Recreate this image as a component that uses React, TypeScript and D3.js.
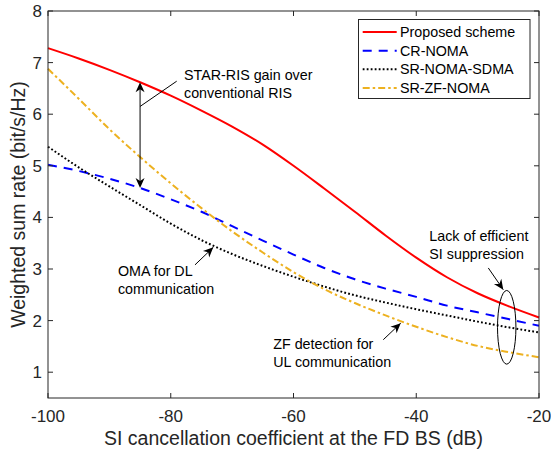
import React from "react";
import * as d3 from "d3";

const xValues = [-100, -95, -90, -85, -80, -75, -70, -65, -60, -55, -50, -45, -40, -35, -30, -25, -20];
const proposed = [7.28, 7.08, 6.86, 6.62, 6.36, 6.07, 5.76, 5.41, 5.0, 4.56, 4.11, 3.65, 3.22, 2.84, 2.53, 2.28, 2.06];
const crNoma = [5.02, 4.9, 4.75, 4.57, 4.35, 4.11, 3.83, 3.55, 3.28, 3.02, 2.8, 2.62, 2.46, 2.29, 2.16, 2.03, 1.9];
const srNomaSdma = [5.37, 4.97, 4.6, 4.24, 3.88, 3.56, 3.29, 3.06, 2.85, 2.66, 2.49, 2.35, 2.22, 2.1, 1.98, 1.87, 1.77];
const srZfNoma = [6.88, 6.3, 5.71, 5.17, 4.66, 4.18, 3.73, 3.32, 2.94, 2.61, 2.34, 2.1, 1.88, 1.68, 1.51, 1.39, 1.29];

const seriesNames = ["Proposed scheme", "CR-NOMA", "SR-NOMA-SDMA", "SR-ZF-NOMA"];
const xTicks = [-100, -80, -60, -40, -20];
const yTicks = [1, 2, 3, 4, 5, 6, 7, 8];
const xTitle = "SI cancellation coefficient at the FD BS (dB)";
const yTitle = "Weighted sum rate (bit/s/Hz)";

const W = 551, H = 451;
const L = 48, R = 539, T = 11, B = 398;
const AX = "#262626";
const FONT = "'Liberation Sans', Arial, Helvetica, sans-serif";

const styles = [
  { color: "#FF0000", dash: "none" },
  { color: "#0000FF", dash: "9,7" },
  { color: "#000000", dash: "1.8,2.2" },
  { color: "#EDB120", dash: "7,3,2.5,3" },
];

export default function App() {
  const x = d3.scaleLinear().domain([-100, -20]).range([L, R]);
  const y = d3.scaleLinear().domain([0.5, 8]).range([B, T]);
  const allSeries = [proposed, crNoma, srNomaSdma, srZfNoma];
  const line = d3
    .line<number>()
    .x((_, i) => x(xValues[i]))
    .y((d) => y(d))
    .curve(d3.curveMonotoneX);

  const iArrow = xValues.indexOf(-85);
  const arrowX = x(-85);
  const arrowTop = y(proposed[iArrow]);
  const arrowBot = y(crNoma[iArrow]);

  const head = (tx: number, ty: number, fx: number, fy: number) => {
    const ang = Math.atan2(ty - fy, tx - fx);
    const len = 10, wid = 4.5;
    const bx = tx - len * Math.cos(ang), by = ty - len * Math.sin(ang);
    const mx = tx - 0.7 * len * Math.cos(ang), my = ty - 0.7 * len * Math.sin(ang);
    const px = -Math.sin(ang) * wid, py = Math.cos(ang) * wid;
    return `M${tx},${ty} L${bx + px},${by + py} L${mx},${my} L${bx - px},${by - py} Z`;
  };

  const arrows = [
    { from: [-76.05, 3.08], to: [-73.07, 3.42] },
    { from: [-45.37, 1.63], to: [-42.53, 1.95] },
    { from: [-28.26, 3.02], to: [-25.82, 2.6] },
  ];

  const notes = [
    { x: -77.84, y: 6.765, lines: ["STAR-RIS gain over", "conventional RIS"] },
    { x: -88.6, y: 2.97, lines: ["OMA for DL", "communication"] },
    { x: -63.3, y: 1.55, lines: ["ZF detection for", "UL communication"] },
    { x: -37.87, y: 3.64, lines: ["Lack of efficient", "SI suppression"] },
  ];

  const legendRows = [32, 50.7, 69.3, 88];

  return (
    <svg
      width={W}
      height={H}
      style={{ position: "absolute", left: 0, top: 0, background: "#fff" }}
      fontFamily={FONT}
    >
      <rect x={0} y={0} width={W} height={H} fill="#fff" />
      {allSeries.map((s, k) => (
        <path
          key={k}
          d={line(s) || ""}
          fill="none"
          stroke={styles[k].color}
          strokeWidth={2}
          strokeDasharray={styles[k].dash}
        />
      ))}

      <rect x={L} y={T} width={R - L} height={B - T} fill="none" stroke={AX} strokeWidth={1} />
      {xTicks.map((t) => (
        <g key={"xt" + t}>
          <line x1={x(t)} x2={x(t)} y1={B} y2={B - 5} stroke={AX} />
          <line x1={x(t)} x2={x(t)} y1={T} y2={T + 5} stroke={AX} />
          <text x={x(t)} y={B + 12} dy="0.71em" textAnchor="middle" fontSize={17} fill={AX}>
            {t}
          </text>
        </g>
      ))}
      {yTicks.map((t) => (
        <g key={"yt" + t}>
          <line x1={L} x2={L + 5} y1={y(t)} y2={y(t)} stroke={AX} />
          <line x1={R} x2={R - 5} y1={y(t)} y2={y(t)} stroke={AX} />
          <text x={L - 6} y={y(t)} dy="0.35em" textAnchor="end" fontSize={17} fill={AX}>
            {t}
          </text>
        </g>
      ))}
      <text x={(L + R) / 2} y={445} textAnchor="middle" fontSize={19.5} fill={AX}>
        {xTitle}
      </text>
      <text
        transform={`translate(25,${(T + B) / 2}) rotate(-90)`}
        textAnchor="middle"
        fontSize={19.5}
        fill={AX}
      >
        {yTitle}
      </text>

      <line x1={arrowX} x2={arrowX} y1={arrowTop + 4} y2={arrowBot - 4} stroke="#000" strokeWidth={1} />
      <path d={head(arrowX, arrowTop, arrowX, arrowBot)} fill="#000" />
      <path d={head(arrowX, arrowBot, arrowX, arrowTop)} fill="#000" />
      <line x1={x(-79.03)} y1={y(6.64)} x2={arrowX} y2={y(6.15)} stroke="#000" strokeWidth={1} />

      {arrows.map((a, i) => {
        const fx = x(a.from[0]), fy = y(a.from[1]);
        const tx = x(a.to[0]), ty = y(a.to[1]);
        return (
          <g key={"ar" + i}>
            <line x1={fx} y1={fy} x2={tx} y2={ty} stroke="#000" strokeWidth={1} />
            <path d={head(tx, ty, fx, fy)} fill="#000" />
          </g>
        );
      })}

      <ellipse
        cx={x(-25.26)}
        cy={y(1.87)}
        rx={x(-23.76) - x(-25.26)}
        ry={y(1.87) - y(2.584)}
        fill="none"
        stroke="#000"
        strokeWidth={1}
      />

      {notes.map((n, i) => (
        <g key={"n" + i}>
          {n.lines.map((ln, j) => (
            <text key={j} x={x(n.x)} y={y(n.y) + j * 18.3} dy="0.35em" fontSize={14.3} fill="#000">
              {ln}
            </text>
          ))}
        </g>
      ))}

      <rect x={358.5} y={19.5} width={171.5} height={79} fill="#fff" stroke={AX} strokeWidth={1} />
      {seriesNames.map((name, k) => (
        <g key={"lg" + k}>
          <line
            x1={362.7}
            x2={396.7}
            y1={legendRows[k]}
            y2={legendRows[k]}
            stroke={styles[k].color}
            strokeWidth={2}
            strokeDasharray={styles[k].dash}
          />
          <text x={400} y={legendRows[k]} dy="0.35em" fontSize={14.3} fill="#000">
            {name}
          </text>
        </g>
      ))}
    </svg>
  );
}
